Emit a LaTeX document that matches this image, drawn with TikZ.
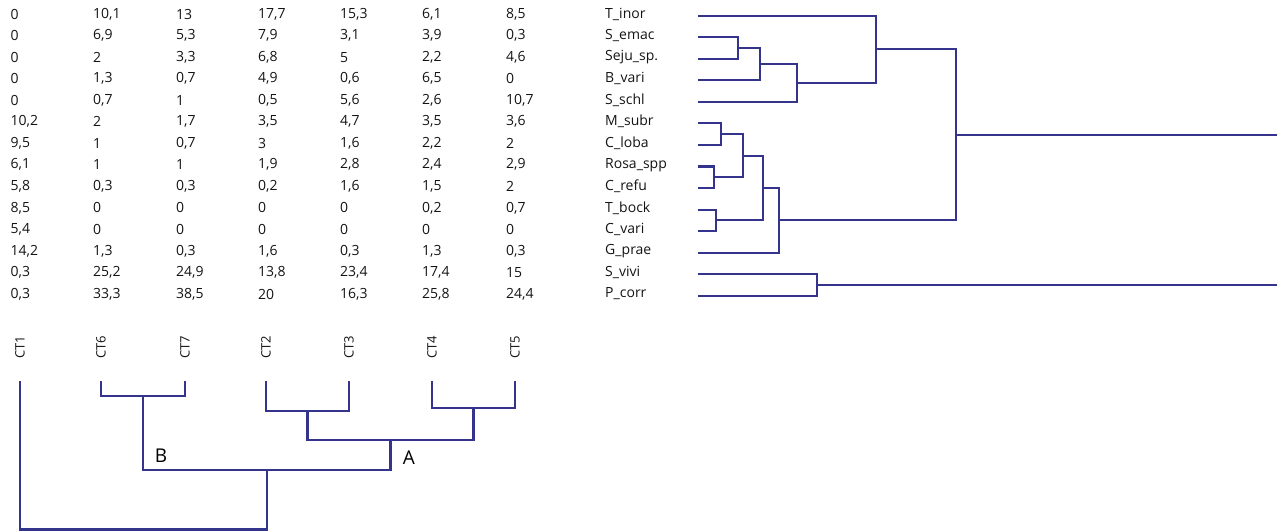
\documentclass[tikz,border=0pt]{standalone}
\usepackage{fontspec}
\setmainfont{Open Sans}
\definecolor{dline}{RGB}{52,52,140}
\definecolor{dfaint}{RGB}{215,215,235}
\definecolor{dtext}{RGB}{20,20,20}
\begin{document}
\begin{tikzpicture}[x=1pt,y=-1pt,
  cell/.style={anchor=west,inner sep=0pt,text=dtext,font=\fontsize{14}{16}\selectfont},
  ctlab/.style={rotate=90,inner sep=0pt,text=dtext,font=\fontsize{13}{15}\selectfont},
  grp/.style={inner sep=0pt,text=black,font=\fontsize{19}{21}\selectfont},
  dend/.style={draw=dline,line width=2.1pt}]
\useasboundingbox (0,0) rectangle (1277,531);
% ---------- table ----------
\newcommand\tabrow[9]{%
  \pgfmathsetmacro\ry{14+21.54*(#1-1)}%
  \pgfmathsetmacro\ly{15.7+21.54*(#1-1)}%
  \node[cell] (t#1c1) at (10.5,\ry) {#2};
  \node[cell] (t#1c2) at (93,\ry) {#3};
  \node[cell] (t#1c3) at (176,\ry) {#4};
  \node[cell] (t#1c4) at (258,\ry) {#5};
  \node[cell] (t#1c5) at (340,\ry) {#6};
  \node[cell] (t#1c6) at (422,\ry) {#7};
  \node[cell] (t#1c7) at (506,\ry) {#8};
  \node[cell] (t#1n) at (605,\ry) {#9};
  \coordinate (l#1) at (698,\ly);}
\tabrow{1}{0}{10,1}{13}{17,7}{15,3}{6,1}{8,5}{T\_inor}
\tabrow{2}{0}{6,9}{5,3}{7,9}{3,1}{3,9}{0,3}{S\_emac}
\tabrow{3}{0}{2}{3,3}{6,8}{5}{2,2}{4,6}{Seju\_sp.}
\tabrow{4}{0}{1,3}{0,7}{4,9}{0,6}{6,5}{0}{B\_vari}
\tabrow{5}{0}{0,7}{1}{0,5}{5,6}{2,6}{10,7}{S\_schl}
\tabrow{6}{10,2}{2}{1,7}{3,5}{4,7}{3,5}{3,6}{M\_subr}
\tabrow{7}{9,5}{1}{0,7}{3}{1,6}{2,2}{2}{C\_loba}
\tabrow{8}{6,1}{1}{1}{1,9}{2,8}{2,4}{2,9}{Rosa\_spp}
\tabrow{9}{5,8}{0,3}{0,3}{0,2}{1,6}{1,5}{2}{C\_refu}
\tabrow{10}{8,5}{0}{0}{0}{0}{0,2}{0,7}{T\_bock}
\tabrow{11}{5,4}{0}{0}{0}{0}{0}{0}{C\_vari}
\tabrow{12}{14,2}{1,3}{0,3}{1,6}{0,3}{1,3}{0,3}{G\_prae}
\tabrow{13}{0,3}{25,2}{24,9}{13,8}{23,4}{17,4}{15}{S\_vivi}
\tabrow{14}{0,3}{33,3}{38,5}{20}{16,3}{25,8}{24,4}{P\_corr}
% ---------- right dendrogram ----------
\coordinate (j1) at (738,48.0);
\coordinate (j2) at (760,64.2);
\coordinate (j3) at (797,83.0);
\coordinate (j4) at (876,49.4);
\coordinate (j5) at (721,134.2);
\coordinate (j6) at (714,177.3);
\coordinate (j7) at (743,155.7);
\coordinate (j8) at (716,220.3);
\coordinate (j9) at (763,188.0);
\coordinate (j10) at (779,220.3);
\coordinate (j11) at (956,134.9);
\coordinate (j12) at (817,285.0);
\coordinate (r1) at (1277,134.9);
\coordinate (r2) at (1277,285.0);
\draw[dend] (l2) -| (j1) |- (l3);
\draw[dend] (j1) -| (j2) |- (l4);
\draw[dend] (j2) -| (j3) |- (l5);
\draw[dend] (l1) -| (j4) |- (j3);
\draw[dend] (l6) -| (j5) |- (l7);
\draw[dend] (l8) -| (j6) |- (l9);
\draw[dend] (j5) -| (j7) |- (j6);
\draw[dend] (l10) -| (j8) |- (l11);
\draw[dend] (j7) -| (j9) |- (j8);
\draw[dend] (j9) -| (j10) |- (l12);
\draw[dend] (j4) -| (j11) |- (j10);
\draw[dend] (l13) -| (j12) |- (l14);
\draw[dend] (j11) -- (r1);
\draw[dend] (j12) -- (r2);
\draw[draw=dfaint,line width=1pt] (r1) -- (r2);
% ---------- bottom dendrogram ----------
\foreach \n/\x in {1/20,6/101,7/185,2/266,3/349,4/432,5/515}{
  \node[ctlab] (ct\n) at (\x,347) {CT\n};
  \coordinate (c\n) at (\x,381);
}
\coordinate (b67) at (143,396);
\coordinate (b23) at (307.5,411);
\coordinate (b45) at (473.5,408);
\coordinate (bA) at (390.5,440);
\coordinate (bB) at (267,470);
\coordinate (bR) at (143.5,529.5);
\draw[dend] (c6) |- (b67) -| (c7);
\draw[dend] (c2) |- (b23) -| (c3);
\draw[dend] (c4) |- (b45) -| (c5);
\draw[dend] (b23) |- (bA) -| (b45);
\draw[dend] (b67) |- (bB) -| (bA);
\draw[dend] (c1) |- (bR) -| (bB);
\node[grp] (labB) at (161,456) {B};
\node[grp] (labA) at (409,458) {A};
\end{tikzpicture}
\end{document}
